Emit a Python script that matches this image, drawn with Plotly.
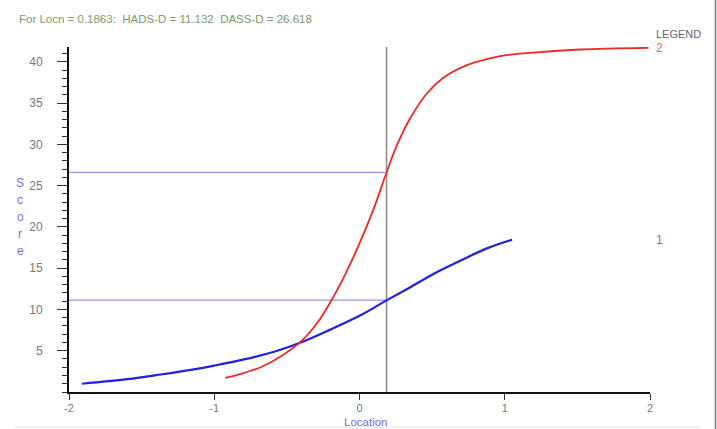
import plotly.graph_objects as go

# Data
locn = 0.1863
hads_at_locn = 11.132
dass_at_locn = 26.618

hads_x = [-1.91, -1.60, -1.37, -1.14, -1.00, -0.795, -0.566, -0.405, -0.222, 0.007, 0.183, 0.35, 0.51, 0.694, 0.877, 1.05]
hads_y = [1.0, 1.55, 2.12, 2.75, 3.2, 3.95, 5.0, 6.0, 7.4, 9.3, 11.07, 12.7, 14.3, 15.9, 17.4, 18.44]

dass_x = [-0.925, -0.8, -0.68, -0.543, -0.405, -0.29, -0.2, -0.1, 0.0, 0.1, 0.186, 0.26, 0.35, 0.465, 0.58, 0.74, 0.97, 1.175, 1.52, 1.99]
dass_y = [1.7, 2.3, 3.0, 4.3, 6.1, 8.4, 10.9, 14.2, 18.0, 22.3, 26.6, 30.0, 33.2, 36.2, 38.1, 39.6, 40.7, 41.1, 41.5, 41.7]

x_ticks = [-2, -1, 0, 1, 2]
x_tick_labels = ["-2", "-1", "0", "1", "2"]
y_ticks = [5, 10, 15, 20, 25, 30, 35, 40]
y_tick_labels = ["5", "10", "15", "20", "25", "30", "35", "40"]

title_text = "For Locn = 0.1863:  HADS-D = 11.132  DASS-D = 26.618"

W, H = 717, 429
L, R, T, B = 69, 67, 47, 37
PW, PH = W - L - R, H - T - B
YMAX = 41.8

def px(x):
    return (x - L) / PW

def py(y):
    return (H - B - y) / PH

FONT = "Liberation Sans Narrow, Arial Narrow, Liberation Sans, Arial, sans-serif"

fig = go.Figure()

# reference lines
fig.add_trace(go.Scatter(x=[-2, locn], y=[hads_at_locn, hads_at_locn], mode="lines",
                         line=dict(color="#7b7be0", width=1), hoverinfo="skip", showlegend=False))
fig.add_trace(go.Scatter(x=[-2, locn], y=[dass_at_locn, dass_at_locn], mode="lines",
                         line=dict(color="#7b7be0", width=1), hoverinfo="skip", showlegend=False))
fig.add_trace(go.Scatter(x=[locn, locn], y=[0, YMAX], mode="lines",
                         line=dict(color="#8a8a8a", width=1.5), hoverinfo="skip", showlegend=False))

fig.add_trace(go.Scatter(x=hads_x, y=hads_y, mode="lines", name="1",
                         line=dict(color="#2020e0", width=2.2, shape="spline", smoothing=1.0),
                         showlegend=False))
fig.add_trace(go.Scatter(x=dass_x, y=dass_y, mode="lines", name="2",
                         line=dict(color="#f02828", width=1.8, shape="spline", smoothing=1.0),
                         showlegend=False))

annotations = [
    dict(text=title_text, x=px(17), y=py(19), xref="paper", yref="paper", xanchor="left",
         yanchor="middle", showarrow=False, font=dict(family=FONT, size=11.5, color="#7a9a6e")),
    dict(text="LEGEND", x=px(654), y=py(34), xref="paper", yref="paper", xanchor="left",
         yanchor="middle", showarrow=False, font=dict(family=FONT, size=11, color="#666666")),
    dict(text="2", x=px(654), y=py(48), xref="paper", yref="paper", xanchor="left",
         yanchor="middle", showarrow=False, font=dict(family=FONT, size=12, color="#f06060")),
    dict(text="1", x=px(654), y=py(240), xref="paper", yref="paper", xanchor="left",
         yanchor="middle", showarrow=False, font=dict(family=FONT, size=12, color="#7070d0")),
    dict(text="Location", x=px(365), y=py(422), xref="paper", yref="paper", xanchor="center",
         yanchor="middle", showarrow=False, font=dict(family=FONT, size=11.5, color="#7070e0")),
]
for i, ch in enumerate("Score"):
    annotations.append(dict(text=ch, x=px(20), y=py(183 + i * 17), xref="paper", yref="paper",
                            xanchor="center", yanchor="middle", showarrow=False,
                            font=dict(family=FONT, size=12, color="#7070e0")))

shapes = [
    dict(type="line", xref="paper", yref="paper", x0=px(14), x1=px(700), y0=py(427), y1=py(427),
         line=dict(color="#e0e0e0", width=1)),
    dict(type="line", xref="paper", yref="paper", x0=px(715.5), x1=px(715.5), y0=py(0), y1=py(429),
         line=dict(color="#777777", width=1.5)),
]

fig.update_layout(
    width=W, height=H,
    margin=dict(l=L, r=R, t=T, b=B, pad=0),
    paper_bgcolor="white", plot_bgcolor="white",
    annotations=annotations, shapes=shapes,
    showlegend=False,
    xaxis=dict(range=[-2, 2], tickvals=x_ticks, ticktext=x_tick_labels, showgrid=False, zeroline=False,
               showline=True, linecolor="#111111", linewidth=2, ticks="outside", ticklen=6,
               tickcolor="#333333", tickwidth=1, tickfont=dict(family=FONT, size=11, color="#777777"),
               ticklabelstandoff=-1, fixedrange=True),
    yaxis=dict(range=[0, YMAX], tickvals=y_ticks, ticktext=y_tick_labels, showgrid=False, zeroline=False,
               showline=True, linecolor="#111111", linewidth=2, ticks="outside", ticklen=10,
               tickcolor="#333333", tickwidth=1, tickfont=dict(family=FONT, size=12, color="#777777"),
               ticklabelstandoff=12,
               minor=dict(dtick=1, tick0=0, ticks="outside", ticklen=5, tickcolor="#333333", tickwidth=1,
                          showgrid=False),
               fixedrange=True),
)

fig.write_html("out.html")
